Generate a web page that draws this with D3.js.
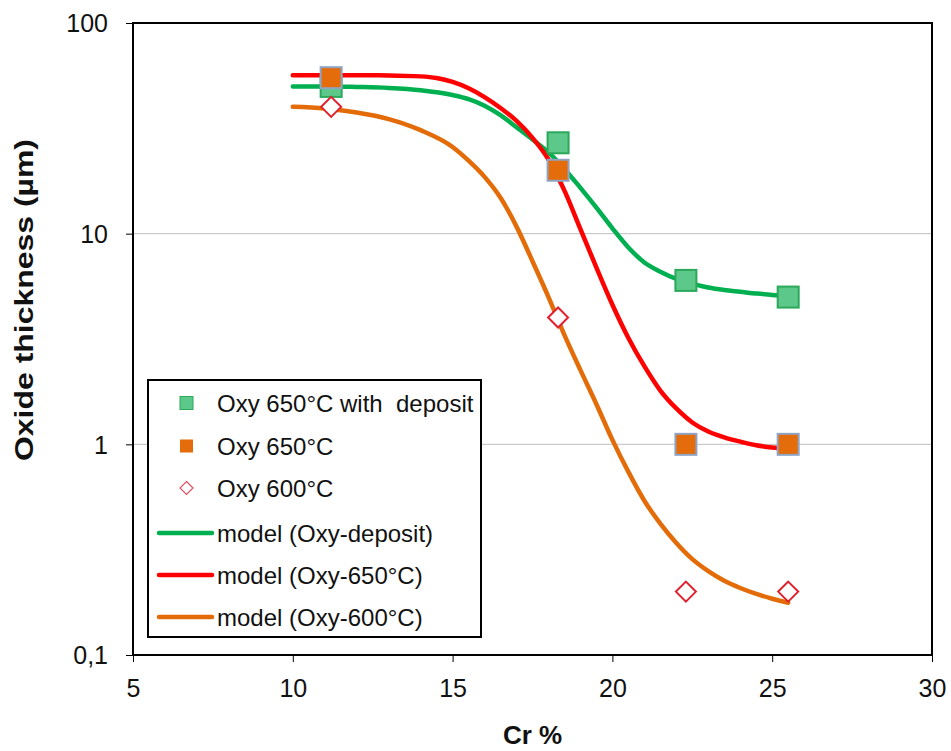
<!DOCTYPE html>
<html><head><meta charset="utf-8">
<script src="https://cdnjs.cloudflare.com/ajax/libs/d3/7.8.5/d3.min.js"></script>
<style>body{margin:0;background:#fff;} svg{display:block;font-family:"Liberation Sans",Arial,sans-serif;}</style>
</head><body><svg id="c" width="951" height="751"></svg>
<script>
const xTicks = [5, 10, 15, 20, 25, 30];
const yTicks = [0.1, 1, 10, 100];
const yTickLabels = ["0,1", "1", "10", "100"];
const crPoints = [11.2, 18.3, 22.3, 25.5];
const depositValues = [50, 27, 6, 5];
const oxy650Values = [55, 20, 1, 1];
const oxy600Values = [40, 4, 0.2, 0.2];
const modelDepositX = [10, 11, 12, 13, 14, 15, 15.5, 16, 16.5, 17, 17.5, 18, 18.5, 19, 19.5, 20, 20.5, 21, 21.5, 22, 22.5, 23, 23.5, 24, 24.5, 25, 25.5];
const modelDepositY = [50, 50, 49.7, 49.2, 48, 45.5, 43.5, 40.5, 36.5, 32, 28, 24.3, 20.3, 16.5, 13.3, 10.6, 8.6, 7.3, 6.6, 6.1, 5.8, 5.55, 5.4, 5.3, 5.2, 5.12, 5.08];
const model650X = [10, 11, 12, 13, 14, 14.5, 15, 15.5, 16, 16.5, 17, 17.5, 18, 18.5, 19, 19.5, 20, 20.5, 21, 21.5, 22, 22.5, 23, 23.5, 24, 24.5, 25, 25.5];
const model650Y = [56.5, 56.5, 56.5, 56.4, 55.8, 54.8, 52.5, 49, 44.5, 39.5, 34.3, 28.5, 22.5, 16.0, 10.5, 6.9, 4.6, 3.2, 2.35, 1.8, 1.48, 1.27, 1.15, 1.08, 1.03, 0.99, 0.965, 0.95];
const model600X = [10, 11, 12, 13, 14, 15, 15.5, 16, 16.5, 17, 17.5, 18, 18.5, 19, 19.5, 20, 20.5, 21, 21.5, 22, 22.5, 23, 23.5, 24, 24.5, 25, 25.5];
const model600Y = [40, 39.3, 37.6, 35, 31, 25.8, 22.2, 18.6, 14.8, 10.8, 7.4, 5.0, 3.3, 2.25, 1.55, 1.05, 0.74, 0.54, 0.42, 0.34, 0.285, 0.25, 0.225, 0.208, 0.195, 0.185, 0.177];
const legendLabels = ["Oxy 650°C with  deposit", "Oxy 650°C", "Oxy 600°C", "model (Oxy-deposit)", "model (Oxy-650°C)", "model (Oxy-600°C)"];

const svg = d3.select("#c");
const L = 133, R = 932, T = 23, B = 655;
const x = d3.scaleLinear().domain([5, 30]).range([L, R]);
const y = d3.scaleLog().domain([0.1, 100]).range([B, T]);

const cGreenLine = "#00B050", cRed = "#FF0000", cOrange = "#E36C09";
const cGreenFill = "#5CC98B", cGreenStroke = "#2BA85A";
const cOrFill = "#E46C0A", cOrStroke = "#8FA3C4";
const cDiamond = "#E0202C";

// gridlines
svg.append("g").selectAll("line").data([1, 10]).join("line")
  .attr("x1", L).attr("x2", R).attr("y1", d => y(d)).attr("y2", d => y(d))
  .attr("stroke", "#BEBEBE").attr("stroke-width", 1);

// axes
const xAxis = d3.axisBottom(x).tickValues(xTicks).tickSize(7).tickFormat(d3.format("d"));
const gx = svg.append("g").attr("transform", `translate(0,${B})`).call(xAxis);
gx.select(".domain").remove();
gx.selectAll(".tick line").attr("stroke", "#000").attr("stroke-width", 1);
gx.selectAll(".tick text").attr("font-size", 25).attr("fill", "#111").attr("dy", 0).attr("y", 42)
  .attr("font-family", "Liberation Sans, Arial, sans-serif");

const yAxis = d3.axisLeft(y).tickValues(yTicks).tickSize(7).tickFormat((d, i) => yTickLabels[i]);
const gy = svg.append("g").attr("transform", `translate(${L},0)`).call(yAxis);
gy.select(".domain").remove();
gy.selectAll(".tick line").attr("stroke", "#000").attr("stroke-width", 1);
gy.selectAll(".tick text").attr("font-size", 25).attr("fill", "#111").attr("x", -25).attr("dy", "0.35em")
  .attr("font-family", "Liberation Sans, Arial, sans-serif");

// plot frame
svg.append("rect").attr("x", L).attr("y", T).attr("width", R - L).attr("height", B - T)
  .attr("fill", "none").attr("stroke", "#000").attr("stroke-width", 2);

// model lines
const line = d3.line().x(d => x(d[0])).y(d => y(d[1])).curve(d3.curveMonotoneX);
const models = [
  {xs: modelDepositX, ys: modelDepositY, c: cGreenLine},
  {xs: model650X, ys: model650Y, c: cRed},
  {xs: model600X, ys: model600Y, c: cOrange}
];
models.forEach(m => {
  svg.append("path").datum(m.xs.map((v, i) => [v, m.ys[i]]))
    .attr("d", line).attr("fill", "none").attr("stroke", m.c).attr("stroke-width", 4.5)
    .attr("stroke-linecap", "round");
});

// markers
const sq = 21;
svg.append("g").selectAll("rect").data(crPoints.map((c, i) => [c, depositValues[i]])).join("rect")
  .attr("x", d => x(d[0]) - sq / 2).attr("y", d => y(d[1]) - sq / 2).attr("width", sq).attr("height", sq)
  .attr("fill", cGreenFill).attr("stroke", cGreenStroke).attr("stroke-width", 2);
svg.append("g").selectAll("rect").data(crPoints.map((c, i) => [c, oxy650Values[i]])).join("rect")
  .attr("x", d => x(d[0]) - sq / 2).attr("y", d => y(d[1]) - sq / 2).attr("width", sq).attr("height", sq)
  .attr("fill", cOrFill).attr("stroke", cOrStroke).attr("stroke-width", 2);
const dia = 10;
svg.append("g").selectAll("path").data(crPoints.map((c, i) => [c, oxy600Values[i]])).join("path")
  .attr("d", d => { const cx = x(d[0]), cy = y(d[1]); return `M${cx},${cy - dia}L${cx + dia},${cy}L${cx},${cy + dia}L${cx - dia},${cy}Z`; })
  .attr("fill", "#fff").attr("stroke", cDiamond).attr("stroke-width", 2);

// legend
const lg = svg.append("g");
lg.append("rect").attr("x", 148).attr("y", 380).attr("width", 333).attr("height", 257)
  .attr("fill", "#fff").attr("stroke", "#000").attr("stroke-width", 2);
const rowY = [403, 446, 488, 533, 575, 617];
legendLabels.forEach((t, i) => {
  lg.append("text").attr("x", 217).attr("y", rowY[i]).attr("dy", "0.36em")
    .attr("font-size", 24).attr("fill", "#111").attr("xml:space", "preserve").style("white-space", "pre").text(t);
});
lg.append("rect").attr("x", 180).attr("y", rowY[0] - 6.5).attr("width", 13).attr("height", 13)
  .attr("fill", cGreenFill).attr("stroke", cGreenStroke).attr("stroke-width", 1);
lg.append("rect").attr("x", 180).attr("y", rowY[1] - 6.5).attr("width", 13).attr("height", 13)
  .attr("fill", cOrFill).attr("stroke", "none");
lg.append("path").attr("d", `M186.5,${rowY[2] - 6.5}L193,${rowY[2]}L186.5,${rowY[2] + 6.5}L180,${rowY[2]}Z`)
  .attr("fill", "#fff").attr("stroke", "#E05060").attr("stroke-width", 1.2);
[cGreenLine, cRed, cOrange].forEach((c, i) => {
  lg.append("line").attr("x1", 159).attr("x2", 212).attr("y1", rowY[3 + i]).attr("y2", rowY[3 + i])
    .attr("stroke", c).attr("stroke-width", 4.5).attr("stroke-linecap", "round");
});

// axis titles
svg.append("text").attr("x", x(17.5)).attr("y", 744).attr("text-anchor", "middle")
  .attr("font-size", 26).attr("font-weight", "bold").attr("fill", "#111").text("Cr %");
svg.append("text").attr("transform", "translate(33,300) rotate(-90)").attr("text-anchor", "middle")
  .attr("font-size", 26).attr("font-weight", "bold").attr("fill", "#111")
  .attr("textLength", 322).attr("lengthAdjust", "spacingAndGlyphs").text("Oxide thickness (µm)");
</script></body></html>
